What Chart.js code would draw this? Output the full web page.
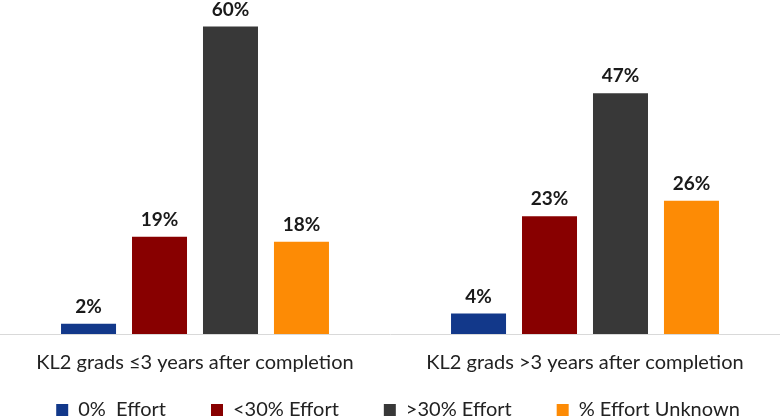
<!DOCTYPE html>
<html><head><meta charset="utf-8">
<script src="https://cdn.jsdelivr.net/npm/chart.js@4/dist/chart.umd.min.js"></script>
<style>html,body{margin:0;padding:0;background:#fff;overflow:hidden}#wrap{width:780px;height:419px}</style>
</head><body><div id="wrap"><canvas id="c"></canvas></div>
<script>
const categories = ["KL2 grads \u22643 years after completion", "KL2 grads >3 years after completion"];
const seriesNames = ["0%  Effort", "<30% Effort", ">30% Effort", "% Effort Unknown"];
const zeroEffort = [2, 4];
const under30 = [19, 23];
const over30 = [60, 47];
const unknownEffort = [18, 26];
const colors = ["#12388a", "#880000", "#383838", "#fd8b05"];

const FONT = "Lato, 'Open Sans', sans-serif";
const labelPlugin = {
  id: 'vlabels',
  afterDatasetsDraw(chart) {
    const ctx = chart.ctx;
    ctx.save();
    ctx.font = "bold 19px " + FONT;
    ctx.fillStyle = "#1a1a1a";
    ctx.textAlign = "center";
    ctx.textBaseline = "middle";
    chart.data.datasets.forEach((ds, i) => {
      chart.getDatasetMeta(i).data.forEach((bar, j) => {
        ctx.fillText(ds.data[j] + "%", bar.x, bar.y - 17);
      });
    });
    ctx.restore();
  }
};
const legendShift = {
  id: 'legendShift',
  afterLayout(chart) {
    if (chart.legend) {
      chart.legend.top -= 20;
      chart.legend.left += 8;
      chart.legend.right += 8;
    }
  }
};

new Chart(document.getElementById('c'), {
  type: 'bar',
  data: {
    labels: categories,
    datasets: [
      {label: seriesNames[0], data: zeroEffort, backgroundColor: colors[0]},
      {label: seriesNames[1], data: under30, backgroundColor: colors[1]},
      {label: seriesNames[2], data: over30, backgroundColor: colors[2]},
      {label: seriesNames[3], data: unknownEffort, backgroundColor: colors[3]}
    ]
  },
  options: {
    responsive: true,
    maintainAspectRatio: false,
    animation: false,
    layout: {padding: {top: 1, left: 0, right: 0, bottom: 0}},
    datasets: {bar: {categoryPercentage: 0.728, barPercentage: 0.775}},
    scales: {
      x: {
        grid: {display: false, drawTicks: false},
        border: {display: true, color: "#d9d9d9", width: 1},
        ticks: {color: "#222", font: {family: FONT, size: 20, lineHeight: 1.2}, padding: 17},
        afterFit: (scale) => { scale.height = 41; }
      },
      y: {display: false, min: 0, max: 65}
    },
    plugins: {
      legend: {
        position: 'bottom',
        maxHeight: 44,
        labels: {color: "#222", font: {family: FONT, size: 20}, boxWidth: 12, boxHeight: 12, padding: 45}
      },
      tooltip: {enabled: false}
    }
  },
  plugins: [labelPlugin, legendShift]
});
</script></body></html>
